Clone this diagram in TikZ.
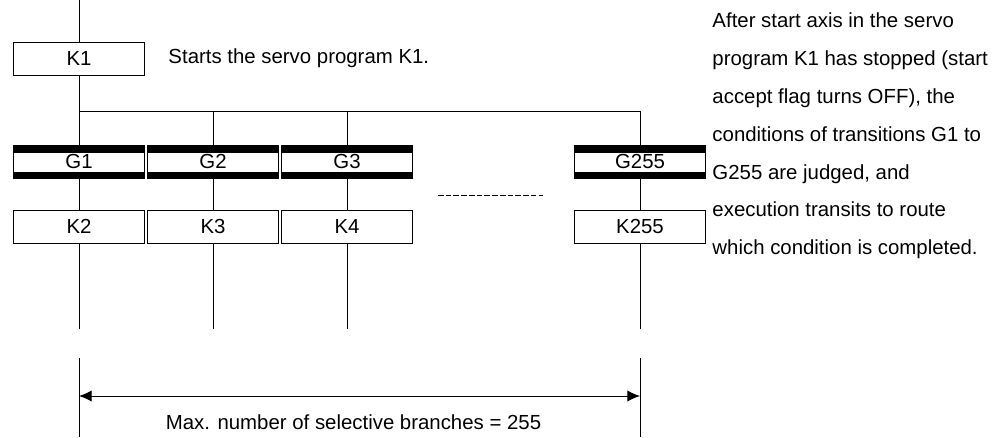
\documentclass[tikz,border=0pt]{standalone}
\usepackage{fontspec}
\setmainfont{Liberation Sans}
\usetikzlibrary{arrows.meta}

\begin{document}
\begin{tikzpicture}[x=0.025cm, y=-0.025cm, line width=0.7pt,
	box/.style={draw, minimum width=3.275cm, minimum height=0.825cm, inner sep=0pt, font=\fontsize{14.5}{17}\selectfont},
	gate/.style={box, path picture={\fill (path picture bounding box.north west) rectangle ([yshift=-0.2cm]path picture bounding box.north east);
		\fill (path picture bounding box.south west) rectangle ([yshift=0.15cm]path picture bounding box.south east);}},
	note/.style={font=\fontsize{14.5}{26.9}\selectfont, inner sep=0pt}]
	\useasboundingbox (0,0) rectangle (1008,437);
	% start step
	\coordinate (top) at (79,0);
	\node[box] (K1) at (79,58.5) {K1};
	\node[note, anchor=west] (startnote) at (168,58.5) {Starts the servo program K1.};
	\draw (top) -- (K1);
	\coordinate (split) at (79,111);
	\coordinate (splitend) at (640,111);
	\draw (K1) -- (split) -- (splitend);
	% selective branches
	\foreach \x/\g/\k in {79/G1/K2, 213/G2/K3, 347/G3/K4, 640/G255/K255} {
		\coordinate (t\g) at (\x,111);
		\node[gate] (\g) at (\x,161.5) {\g};
		\node[box] (\k) at (\x,226.5) {\k};
		\coordinate (e\g) at (\x,329);
		\draw (t\g) -- (\g) -- (\k) -- (e\g);
	}
	\draw[dash pattern=on 4pt off 1.5pt, line width=0.6pt] (438,195) -- (543,195);
	% dimension
	\coordinate (extLa) at (79,358); \coordinate (extLb) at (79,437);
	\coordinate (extRa) at (640,358); \coordinate (extRb) at (640,437);
	\draw (extLa) -- (extLb);
	\draw (extRa) -- (extRb);
	\coordinate (dimL) at (79,396); \coordinate (dimR) at (640,396);
	\draw[{Latex[length=9pt,width=8pt]}-{Latex[length=9pt,width=8pt]}] (dimL) -- (dimR);
	\node[note] (maxlabel) at (353.5,422) {Max. number of selective branches = 255};
	\node[note, anchor=north west, align=left] (explain) at (712,12.5) {After start axis in the servo\\ program K1 has stopped (start\\ accept flag turns OFF), the\\ conditions of transitions G1 to\\ G255 are judged, and\\ execution transits to route\\ which condition is completed.};
\end{tikzpicture}
\end{document}
